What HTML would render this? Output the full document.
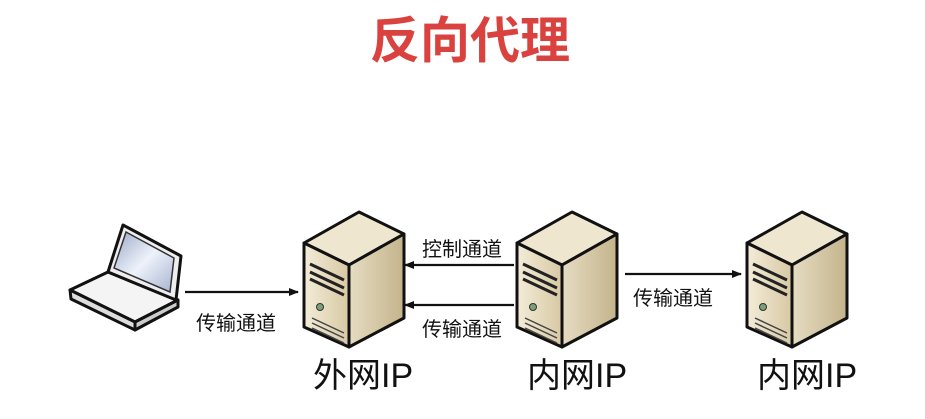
<!DOCTYPE html>
<html><head><meta charset="utf-8"><style>
body{margin:0;background:#fff;width:925px;height:414px;overflow:hidden}
text{font-family:"Liberation Sans","Noto Sans CJK SC",sans-serif}
</style></head><body>
<svg width="925" height="414" viewBox="0 0 925 414" xmlns="http://www.w3.org/2000/svg">
<defs>
<linearGradient id="fr" x1="0" x2="1"><stop offset="0" stop-color="#f3ecd8"/><stop offset="1" stop-color="#d8c9a4"/></linearGradient>
<linearGradient id="sd" x1="0" x2="1"><stop offset="0" stop-color="#e6dcc2"/><stop offset="1" stop-color="#c4b48c"/></linearGradient>
<linearGradient id="sc" x1="0" y1="0" x2="1" y2="1"><stop offset="0" stop-color="#9aa8c8"/><stop offset="0.5" stop-color="#eef2fa"/><stop offset="1" stop-color="#a6b2cf"/></linearGradient>
<g id="srv">
<polygon points="0,33 55,2 100,24 45,55" fill="#efe6cf" stroke="#111" stroke-width="3" stroke-linejoin="round"/>
<polygon points="45,55 100,24 100,108 45,137" fill="url(#sd)" stroke="#111" stroke-width="3" stroke-linejoin="round"/>
<polygon points="0,33 45,55 45,137 0,117" fill="url(#fr)" stroke="#111" stroke-width="3" stroke-linejoin="round"/>
<path d="M6,54 L40,70 M6,62 L40,78 M6,69 L40,85" stroke="#222" stroke-width="3"/>
<circle cx="16" cy="97" r="3.5" fill="#7aa07a" stroke="#333"/>
<path d="M8,108 L40,123 M8,113 L40,128 M8,118 L40,133" stroke="#444" stroke-width="1.5"/>
</g>
<marker id="ah" markerWidth="10" markerHeight="8" refX="9" refY="4" orient="auto" markerUnits="userSpaceOnUse"><path d="M0,0 L10,4 L0,8z" fill="#111"/></marker>
</defs>
<text x="470" y="58" text-anchor="middle" font-size="50" font-weight="bold" fill="#d9423f">反向代理</text>
<!-- laptop -->
<g stroke="#111" stroke-width="3" stroke-linejoin="round">
<polygon points="70,290 108,272 178,300 135,322" fill="#f4f4f4"/>
<polygon points="70,290 135,322 135,330 71,299" fill="#ddd"/>
<polygon points="135,322 178,300 178,307 135,330" fill="#ccc"/>
<polygon points="108,272 123,225 181,256 176,300" fill="#eee"/>
</g>
<polygon points="114,268 126,232 174,258 170,292" fill="url(#sc)" stroke="#333" stroke-width="1.5"/>
<use href="#srv" x="304" y="210"/>
<use href="#srv" x="517" y="210"/>
<use href="#srv" x="747" y="210"/>
<g stroke="#111" stroke-width="2.2">
<line x1="185" y1="292" x2="298" y2="292" marker-end="url(#ah)"/>
<line x1="514" y1="265" x2="405" y2="265" marker-end="url(#ah)"/>
<line x1="514" y1="305" x2="405" y2="305" marker-end="url(#ah)"/>
<line x1="625" y1="274" x2="741" y2="274" marker-end="url(#ah)"/>
</g>
<g font-size="20" fill="#111">
<text x="196" y="330">传输通道</text>
<text x="422" y="256">控制通道</text>
<text x="422" y="336">传输通道</text>
<text x="633" y="305">传输通道</text>
</g>
<g font-size="34" fill="#111">
<text x="313" y="387">外网IP</text>
<text x="527" y="387">内网IP</text>
<text x="757" y="387">内网IP</text>
</g>
</svg>
</body></html>
